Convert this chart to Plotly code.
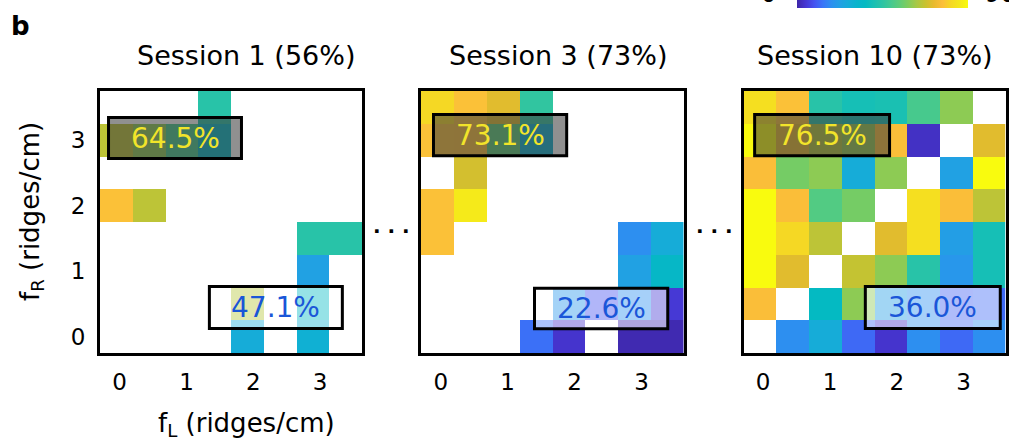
import plotly.graph_objects as go

# Grid of stimulus frequencies (ridges/cm)
f_left = [0.0, 0.5, 1.0, 1.5, 2.0, 2.5, 3.0, 3.5]
f_right = [3.5, 3.0, 2.5, 2.0, 1.5, 1.0, 0.5, 0.0]   # rows listed top to bottom
N = None

# Per-cell performance (%) for each session, rows from f_R = 3.5 down to 0
session_1 = [
    [N, N, N, 44, N, N, N, N],
    [66, 60, 50, 34, N, N, N, N],
    [N, N, N, N, N, N, N, N],
    [77, 66, N, N, N, N, N, N],
    [N, N, N, N, N, N, 44, 44],
    [N, N, N, N, N, N, 23, N],
    [N, N, N, N, 65, N, 35, N],
    [N, N, N, N, 27, N, 29, N],
]
session_3 = [
    [81, 77, 71, 46, N, N, N, N],
    [77, 76, 54, 30, N, N, N, N],
    [N, 69, N, N, N, N, N, N],
    [77, 86, N, N, N, N, N, N],
    [77, N, N, N, N, N, 18, 27],
    [N, N, N, N, N, N, 23, 34],
    [N, N, N, N, 20, 9, 18, 5],
    [N, N, N, 13, 4, N, 1, 1],
]
session_10 = [
    [83, 77, 44, 40, 41, 50, 60, N],
    [90, 72, 65, 61, 76, 3, N, 71],
    [76, 57, 60, 27, 60, N, 23, 90],
    [90, 76, 52, 57, N, 83, 76, 66],
    [90, 81, 66, N, 71, 83, 22, 40],
    [90, 71, N, 67, 60, 44, 20, 40],
    [76, N, 36, 60, 22, 18, 11, 12],
    [N, 18, 27, 12, 4, 18, 12, 18],
]
sessions = [session_1, session_3, session_10]

titles = ["Session 1 (56%)", "Session 3 (73%)", "Session 10 (73%)"]
upper_labels = ["64.5%", "73.1%", "76.5%"]
lower_labels = ["47.1%", "22.6%", "36.0%"]
tick_text = ["0", "1", "2", "3"]
x_tick_vals = [0.05, 1.07, 2.09, 3.11]
y_tick_vals = [0, 1, 2, 3]

# Highlight boxes (x0, x1, y0, y1) in data units for each panel
upper_boxes = [(-0.12, 1.91, 2.72, 3.345), (-0.06, 1.97, 2.76, 3.39), (-0.08, 1.98, 2.76, 3.39)]
lower_boxes = [(1.42, 3.45, 0.124, 0.765), (1.48, 3.51, 0.12, 0.74), (1.61, 3.67, 0.124, 0.765)]

# Pixel geometry of the three panels
panel_x = [(100, 362), (421, 683.5), (743.5, 1005.5)]
panel_top, panel_bottom = 91, 353
W, H = 1009, 440

parula = [
    [0.00, "#3e26a8"], [0.05, "#4636d2"], [0.10, "#4552f0"], [0.15, "#3a74f8"],
    [0.20, "#2d8ff0"], [0.25, "#22a0e4"], [0.30, "#16acd8"], [0.35, "#08b4cc"],
    [0.40, "#04bac2"], [0.45, "#18c0b4"], [0.50, "#2cc4a4"], [0.55, "#44c990"],
    [0.60, "#5ecc78"], [0.65, "#80cc5c"], [0.70, "#a8c844"], [0.75, "#c8c230"],
    [0.80, "#e8ba2e"], [0.85, "#fcbe3a"], [0.90, "#f5d824"], [0.95, "#f4e81c"],
    [1.00, "#f9fb0e"],
]

FONT = "DejaVu Sans"

fig = go.Figure()
for i, z in enumerate(sessions):
    sfx = "" if i == 0 else str(i + 1)
    fig.add_trace(go.Heatmap(
        x=f_left, y=f_right, z=z, coloraxis="coloraxis",
        xaxis="x" + sfx, yaxis="y" + sfx, hoverongaps=False,
    ))

layout = dict(
    width=W, height=H, margin=dict(l=0, r=0, t=0, b=0, autoexpand=False),
    paper_bgcolor="white", plot_bgcolor="white",
    font=dict(family=FONT, color="black"),
    coloraxis=dict(
        colorscale=parula, cmin=0, cmax=90,
        colorbar=dict(
            orientation="h", x=797 / W, xanchor="left", y=1 - 7.5 / H, yanchor="bottom",
            lenmode="pixels", len=171, thickness=14, xpad=0, ypad=0,
            outlinewidth=0, showticklabels=False,
        ),
    ),
    showlegend=False,
)

y_dom = [1 - panel_bottom / H, 1 - panel_top / H]
for i in range(3):
    sfx = "" if i == 0 else str(i + 1)
    x0p, x1p = panel_x[i]
    layout["xaxis" + sfx] = dict(
        domain=[x0p / W, x1p / W], range=[-0.25, 3.75], anchor="y" + sfx,
        showgrid=False, zeroline=False, showline=True, mirror=True,
        linewidth=3, linecolor="black", ticks="",
        tickvals=x_tick_vals, ticktext=tick_text, ticklabelstandoff=6,
        tickfont=dict(size=23, family=FONT, color="black"),
    )
    layout["yaxis" + sfx] = dict(
        domain=y_dom, range=[-0.25, 3.75], anchor="x" + sfx,
        showgrid=False, zeroline=False, showline=True, mirror=True,
        linewidth=3, linecolor="black", ticks="",
        tickvals=y_tick_vals, ticktext=tick_text, ticklabelstandoff=7,
        showticklabels=(i == 0),
        tickfont=dict(size=23, family=FONT, color="black"),
    )
fig.update_layout(**layout)


def note(x, y, text, size, **kw):
    """Centred text placed in pixel coordinates of the figure."""
    d = dict(xref="paper", yref="paper", x=x / W, y=1 - y / H, text=text,
             showarrow=False, xanchor="center", yanchor="middle",
             font=dict(size=size, family=FONT, color="black"))
    d.update(kw)
    return d


shapes = []
annotations = []
for i in range(3):
    sfx = "" if i == 0 else str(i + 1)
    ux0, ux1, uy0, uy1 = upper_boxes[i]
    lx0, lx1, ly0, ly1 = lower_boxes[i]
    shapes.append(dict(type="rect", xref="x" + sfx, yref="y" + sfx,
                       x0=ux0, x1=ux1, y0=uy0, y1=uy1,
                       fillcolor="rgba(60,60,60,0.57)", line=dict(color="black", width=3)))
    shapes.append(dict(type="rect", xref="x" + sfx, yref="y" + sfx,
                       x0=lx0, x1=lx1, y0=ly0, y1=ly1,
                       fillcolor="rgba(255,255,255,0.58)", line=dict(color="black", width=3)))
    annotations.append(dict(xref="x" + sfx, yref="y" + sfx, x=(ux0 + ux1) / 2, y=(uy0 + uy1) / 2,
                            text=upper_labels[i], showarrow=False,
                            xanchor="center", yanchor="middle",
                            font=dict(size=28, family=FONT, color="#f2e42a")))
    annotations.append(dict(xref="x" + sfx, yref="y" + sfx, x=(lx0 + lx1) / 2, y=(ly0 + ly1) / 2,
                            text=lower_labels[i], showarrow=False,
                            xanchor="center", yanchor="middle",
                            font=dict(size=28, family=FONT, color="#1a56d8")))

# Panel titles
for cx, t in zip([246, 558, 875], titles):
    annotations.append(note(cx, 55, t, 27))

# Panel letter, axis titles, ellipses, colorbar end labels
annotations += [
    note(20, 26, "<b>b</b>", 26),
    note(31, 212, "f<sub>R</sub> (ridges/cm)", 26, textangle=-90),
    note(246, 424, "f<sub>L</sub> (ridges/cm)", 26),
    note(391, 226, "<b>. . .</b>", 20),
    note(714, 226, "<b>. . .</b>", 20),
    note(768, 10, "0", 24, yanchor="bottom"),
    note(983, 10, "90", 24, xanchor="left", yanchor="bottom"),
]

fig.update_layout(shapes=shapes, annotations=annotations)
fig.write_html("out.html")
